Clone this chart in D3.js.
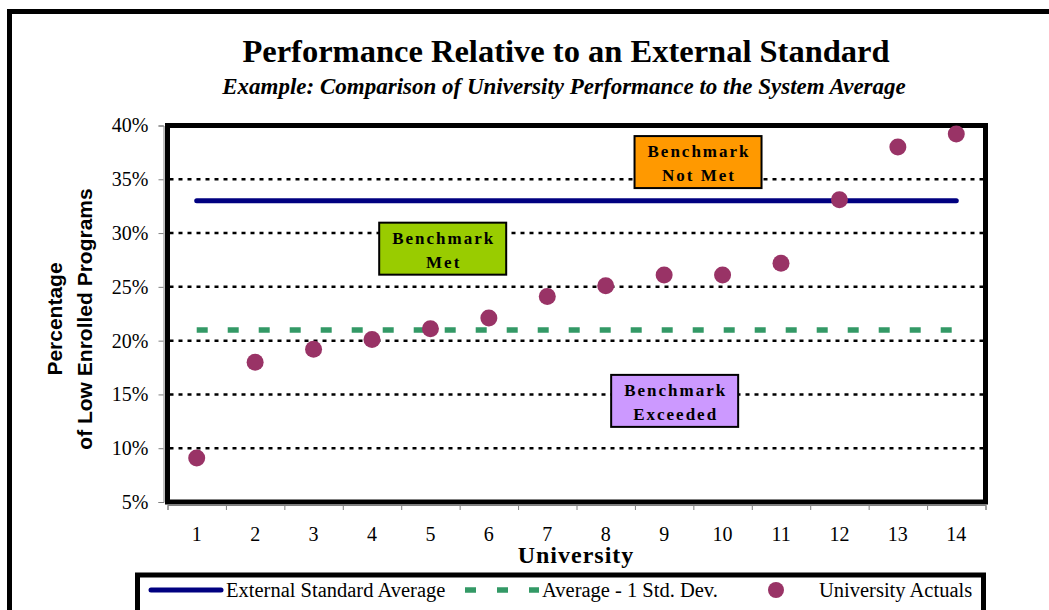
<!DOCTYPE html>
<html>
<head>
<meta charset="utf-8">
<script src="https://cdn.jsdelivr.net/npm/d3@7"></script>
<style>
  html, body { margin: 0; padding: 0; background: #fff; }
  svg { display: block; }
</style>
</head>
<body>
<svg id="chart" width="1049" height="610"></svg>
<script>
// Universities along the x axis
const universities = [1, 2, 3, 4, 5, 6, 7, 8, 9, 10, 11, 12, 13, 14];
// Percentage of low enrolled programs, per university
const universityActuals = [9.1, 18.0, 19.2, 20.1, 21.1, 22.1, 24.1, 25.1, 26.1, 26.1, 27.2, 33.1, 38.0, 39.2];
// Reference levels
const externalStandardAverage = [33, 33, 33, 33, 33, 33, 33, 33, 33, 33, 33, 33, 33, 33];
const averageMinusOneSD = [21, 21, 21, 21, 21, 21, 21, 21, 21, 21, 21, 21, 21, 21];
// Y axis ticks (percent)
const yTicks = [5, 10, 15, 20, 25, 30, 35, 40];
// Region labels: [line 1, line 2], placed at (university, percent)
const benchmarkLabels = ["Benchmark Not Met", "Benchmark Met", "Benchmark Exceeded"];
const benchmarkLines = [["Benchmark", "Not Met"], ["Benchmark", "Met"], ["Benchmark", "Exceeded"]];
const benchmarkAtUniversity = [9.58, 5.21, 9.18];
const benchmarkAtPercent = [36.6, 28.55, 14.4];
const benchmarkFill = ["#FF9900", "#99CC00", "#CC99FF"];
// Legend
const legendLabels = ["External Standard Average", "Average - 1 Std. Dev.", "University Actuals"];

const svg = d3.select("#chart");
const serif = "'Liberation Serif', 'Times New Roman', serif";
const sans = "'Liberation Sans', Arial, sans-serif";

const plot = { left: 167.5, right: 985.5, top: 125.5, bottom: 502 };

const x = d3.scaleBand().domain(universities).range([plot.left, plot.right]).paddingInner(0).paddingOuter(0);
const xc = d => x(d) + x.bandwidth() / 2;
const xLin = d3.scaleLinear().domain([0.5, 14.5]).range([plot.left, plot.right]);
const y = d3.scaleLinear().domain([5, 40]).range([plot.bottom, plot.top]);

// Outer frame
svg.append("rect")
  .attr("x", 9.5).attr("y", 11.5).attr("width", 1100).attr("height", 700)
  .attr("fill", "none").attr("stroke", "#000").attr("stroke-width", 5);

// Titles
svg.append("text")
  .attr("x", 566).attr("y", 62)
  .attr("text-anchor", "middle")
  .style("font-family", serif).style("font-weight", "bold").style("font-size", "32.5px")
  .text("Performance Relative to an External Standard");
svg.append("text")
  .attr("x", 564).attr("y", 94)
  .attr("text-anchor", "middle")
  .style("font-family", serif).style("font-weight", "bold").style("font-style", "italic").style("font-size", "23px")
  .text("Example: Comparison of University Performance to the System Average");

// Gridlines (dotted)
svg.append("g")
  .selectAll("line")
  .data(yTicks.filter(t => t > 5 && t < 40))
  .join("line")
  .attr("x1", plot.left + 2).attr("x2", plot.right - 2)
  .attr("y1", d => y(d)).attr("y2", d => y(d))
  .attr("stroke", "#000").attr("stroke-width", 2.5).attr("stroke-dasharray", "4,5");

// Y axis (thin grey line with ticks)
const yAxis = svg.append("g")
  .attr("transform", `translate(${plot.left - 4},0)`)
  .call(d3.axisLeft(y).tickValues(yTicks).tickSize(5).tickFormat(d => d + "%").tickPadding(10));
yAxis.select(".domain").attr("stroke", "#808080");
yAxis.selectAll(".tick line").attr("stroke", "#808080");
yAxis.selectAll("text")
  .style("font-family", serif).style("font-size", "20px").attr("fill", "#000");

// X axis tick marks at category boundaries
const xTickAxis = svg.append("g")
  .attr("transform", `translate(0,${plot.bottom + 3})`)
  .call(d3.axisBottom(xLin).tickValues(d3.range(0.5, 14.6, 1)).tickSize(5).tickFormat(""));
xTickAxis.select(".domain").attr("stroke", "#808080");
xTickAxis.selectAll(".tick line").attr("stroke", "#808080");

// X axis labels at category centers
const xLabelAxis = svg.append("g")
  .attr("transform", `translate(0,${plot.bottom})`)
  .call(d3.axisBottom(x).tickSize(0).tickPadding(25));
xLabelAxis.select(".domain").remove();
xLabelAxis.selectAll("text")
  .style("font-family", serif).style("font-size", "20px").attr("fill", "#000");

// Axis titles
svg.append("text")
  .attr("x", 576).attr("y", 563)
  .attr("text-anchor", "middle")
  .style("font-family", serif).style("font-weight", "bold").style("font-size", "24px")
  .style("letter-spacing", "1px")
  .text("University");
const yTitle = svg.append("text")
  .attr("transform", "translate(0,319) rotate(-90)")
  .attr("text-anchor", "middle")
  .style("font-family", sans).style("font-weight", "bold").style("font-size", "21px");
yTitle.append("tspan").attr("x", 0).attr("y", 62).text("Percentage");
yTitle.append("tspan").attr("x", 0).attr("y", 92).text("of Low Enrolled Programs");

// Plot frame
svg.append("rect")
  .attr("x", plot.left).attr("y", plot.top)
  .attr("width", plot.right - plot.left).attr("height", plot.bottom - plot.top)
  .attr("fill", "none").attr("stroke", "#000").attr("stroke-width", 5);

// External standard average line
const line = d3.line().x((d, i) => xc(universities[i])).y(d => y(d));
svg.append("path")
  .datum(externalStandardAverage)
  .attr("d", line)
  .attr("fill", "none").attr("stroke", "#000080").attr("stroke-width", 5).attr("stroke-linecap", "round");

// Average - 1 SD line (dashed)
svg.append("path")
  .datum(averageMinusOneSD)
  .attr("d", line)
  .attr("fill", "none").attr("stroke", "#339966").attr("stroke-width", 5.5).attr("stroke-dasharray", "11,20");

// Benchmark region labels
const boxW = 127, boxH = 52;
const labels = svg.append("g").selectAll("g")
  .data(benchmarkLabels)
  .join("g")
  .attr("transform", (d, i) => `translate(${xLin(benchmarkAtUniversity[i])},${y(benchmarkAtPercent[i])})`);
labels.append("rect")
  .attr("x", -boxW / 2).attr("y", -boxH / 2).attr("width", boxW).attr("height", boxH)
  .attr("fill", (d, i) => benchmarkFill[i]).attr("stroke", "#000").attr("stroke-width", 2);
labels.each(function (d, i) {
  const t = d3.select(this).append("text")
    .attr("text-anchor", "middle")
    .style("font-family", serif).style("font-weight", "bold").style("font-size", "17px")
    .style("letter-spacing", "2px");
  t.append("tspan").attr("x", 1).attr("y", -5).text(benchmarkLines[i][0]);
  t.append("tspan").attr("x", 1).attr("y", 19).text(benchmarkLines[i][1]);
});

// University actual points
svg.append("g")
  .selectAll("circle")
  .data(universityActuals)
  .join("circle")
  .attr("cx", (d, i) => xc(universities[i]))
  .attr("cy", d => y(d))
  .attr("r", 8.5)
  .attr("fill", "#993366");

// Legend
const legend = svg.append("g");
legend.append("rect")
  .attr("x", 137.5).attr("y", 575).attr("width", 846).attr("height", 60)
  .attr("fill", "#fff").attr("stroke", "#000").attr("stroke-width", 5);
legend.append("line")
  .attr("x1", 151).attr("x2", 221).attr("y1", 590).attr("y2", 590)
  .attr("stroke", "#000080").attr("stroke-width", 5).attr("stroke-linecap", "round");
legend.append("line")
  .attr("x1", 465).attr("x2", 539).attr("y1", 590).attr("y2", 590)
  .attr("stroke", "#339966").attr("stroke-width", 5.5).attr("stroke-dasharray", "11,21");
legend.append("circle")
  .attr("cx", 776).attr("cy", 590).attr("r", 8)
  .attr("fill", "#993366");
const legendX = [226, 542, 819];
legend.selectAll("text.lg")
  .data(legendLabels)
  .join("text")
  .attr("class", "lg")
  .attr("x", (d, i) => legendX[i]).attr("y", 597)
  .style("font-family", serif).style("font-size", "20.5px")
  .text(d => d);
</script>
</body>
</html>
